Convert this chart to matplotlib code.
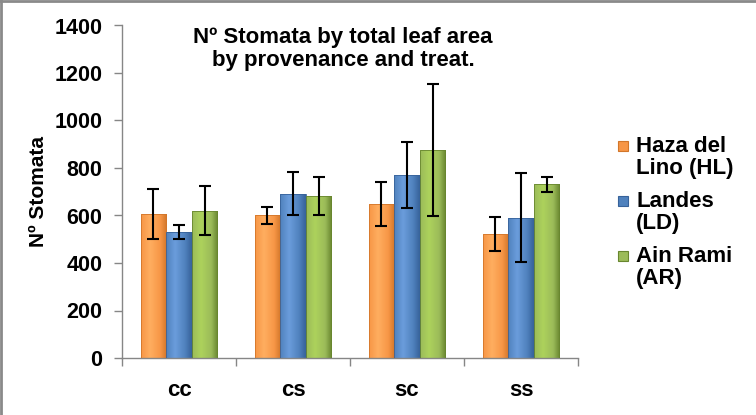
import numpy as np
import matplotlib
matplotlib.use("Agg")
import matplotlib.pyplot as plt
from matplotlib.colors import LinearSegmentedColormap
from matplotlib.patches import Rectangle
from matplotlib.lines import Line2D

plt.rcParams['font.family'] = ['Liberation Sans', 'DejaVu Sans']
plt.rcParams['font.weight'] = 'bold'

# Data
treatments = ["cc", "cs", "sc", "ss"]
provenances = ["Haza del\nLino (HL)", "Landes\n(LD)", "Ain Rami\n(AR)"]
hl_mean = [605, 600, 648, 521]
hl_err = [105, 37, 92, 72]
ld_mean = [530, 692, 770, 590]
ld_err = [28, 90, 138, 187]
ar_mean = [620, 682, 877, 732]
ar_err = [103, 79, 278, 32]

# colour ramps: base, light, dark
bar_colors = [
    ("#F79646", "#FFAE60", "#D2762A"),
    ("#4F81BD", "#6B9DDC", "#37629A"),
    ("#9BBB59", "#ADD25C", "#68862F"),
]

W, H = 756, 415
fig = plt.figure(figsize=(W / 100, H / 100), dpi=100)
ax = fig.add_axes([122 / W, 1 - 358 / H, 456 / W, (358 - 25.5) / H])

x = np.arange(len(treatments))
width = 0.22
offsets = [-0.225, 0, 0.225]
means = [hl_mean, ld_mean, ar_mean]
errs = [hl_err, ld_err, ar_err]

t = np.linspace(0, 1, 64)
for i in range(3):
    base, light, dark = bar_colors[i]
    cmap = LinearSegmentedColormap.from_list(
        "g%d" % i, [(0, base), (0.35, light), (0.75, base), (1.0, dark)])
    bars = ax.bar(x + offsets[i], means[i], width, color="none",
                  edgecolor=dark, linewidth=0.6, zorder=3)
    for b in bars:
        x0, y0 = b.get_x(), b.get_y()
        w, h = b.get_width(), b.get_height()
        im = ax.imshow(t[np.newaxis, :], cmap=cmap, aspect="auto",
                       extent=[x0, x0 + w, y0, y0 + h], zorder=2,
                       interpolation="bicubic")
        im.set_clip_path(b)
    ax.errorbar(x + offsets[i], means[i], yerr=errs[i], fmt="none",
                ecolor="black", elinewidth=1.5, capsize=4, capthick=1.5,
                zorder=4)

ax.set_xlim(-0.5, 3.5)
ax.set_ylim(0, 1400)
ax.set_yticks(np.arange(0, 1401, 200))
ax.tick_params(axis="y", labelsize=15.5, length=6, width=1,
               color="#868686", pad=8)

# category boundaries as major ticks, names as minor tick labels
ax.set_xticks(np.arange(-0.5, 4, 1))
ax.set_xticklabels([])
ax.set_xticks(x, minor=True)
ax.set_xticklabels(treatments, minor=True)
ax.tick_params(axis="x", which="major", length=6, width=1, color="#868686")
ax.tick_params(axis="x", which="minor", length=0, labelsize=16, pad=16)

for s in ["top", "right"]:
    ax.spines[s].set_visible(False)
for s in ["left", "bottom"]:
    ax.spines[s].set_color("#868686")
    ax.spines[s].set_linewidth(1)

ax.set_ylabel("Nº Stomata", fontsize=15, fontweight="bold")
ax.yaxis.set_label_coords(-0.163, 0.5)

fig.text(343 / W, 1 - 27 / H,
         "Nº Stomata by total leaf area\nby provenance and treat.",
         ha="center", va="top", fontsize=16, fontweight="bold",
         linespacing=1.15)

# legend drawn by hand so the key sits beside the first line of each label
entry_tops = [140, 195, 250]
for (base, light, dark), label, top in zip(bar_colors, provenances, entry_tops):
    fig.add_artist(Rectangle((618 / W, 1 - (top + 11) / H), 10 / W, 10 / H,
                             transform=fig.transFigure, facecolor=base,
                             edgecolor=dark, linewidth=0.8))
    fig.text(636 / W, 1 - (top - 4) / H, label, ha="left", va="top",
             fontsize=16, fontweight="bold", linespacing=1.05)

# outer chart frame (only left and top visible in the crop)
fig.add_artist(Line2D([0.0013, 0.0013], [0, 1], transform=fig.transFigure,
                      color="#8a8a8a", linewidth=2))
fig.add_artist(Line2D([0, 1], [0.9976, 0.9976], transform=fig.transFigure,
                      color="#8a8a8a", linewidth=2))

fig.savefig("out.png", dpi=100)
